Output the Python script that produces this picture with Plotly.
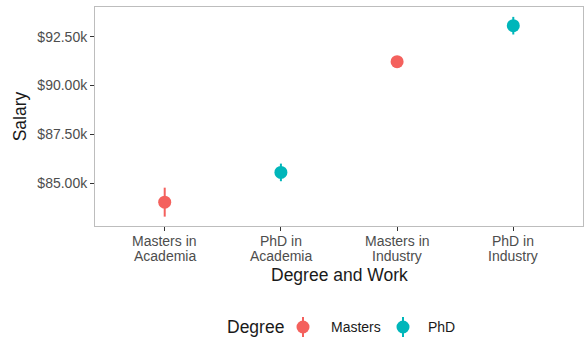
import plotly.graph_objects as go

# Mean salary by degree/work combination, with standard-error half widths
categories = ["Masters in<br>Academia", "PhD in<br>Academia", "Masters in<br>Industry", "PhD in<br>Industry"]
degree = ["Masters", "PhD", "Masters", "PhD"]
salary = [84040, 85560, 91220, 93060]
salary_se = [740, 450, 150, 450]

y_ticks = [85000, 87500, 90000, 92500]
y_tick_labels = ["$85.00k", "$87.50k", "$90.00k", "$92.50k"]

colors = {"Masters": "#F4615D", "PhD": "#00B6BA"}
FONT = "Liberation Sans, Arial, sans-serif"

W, H = 587, 341
M_L, M_R, M_T, M_B = 95, 4, 7, 115
PW, PH = W - M_L - M_R, H - M_T - M_B

fig = go.Figure()
for d in ["Masters", "PhD"]:
    idx = [i for i, g in enumerate(degree) if g == d]
    fig.add_trace(go.Scatter(
        x=[i for i in idx],
        y=[salary[i] for i in idx],
        error_y=dict(type="data", array=[salary_se[i] for i in idx],
                     color=colors[d], thickness=2, width=0),
        mode="markers",
        marker=dict(color=colors[d], size=13),
        name=d,
        showlegend=False,
    ))

fig.update_xaxes(
    range=[-0.6, 3.6],
    tickmode="array", tickvals=list(range(len(categories))), ticktext=[""] * len(categories),
    ticks="outside", ticklen=4, tickcolor="#333333", tickwidth=1,
    showline=True, linecolor="#BDBDBD", linewidth=1, mirror=True,
    showgrid=False, zeroline=False,
)
fig.update_yaxes(
    range=[82821, 94015],
    tickmode="array", tickvals=y_ticks, ticktext=y_tick_labels,
    ticks="outside", ticklen=4, tickcolor="#333333", tickwidth=1,
    tickfont=dict(family=FONT, size=14, color="#4D4D4D"),
    showline=True, linecolor="#BDBDBD", linewidth=1, mirror=True,
    showgrid=False, zeroline=False,
    title=dict(text="Salary", font=dict(family=FONT, size=17.5, color="#1A1A1A"), standoff=6),
)


def px_x(px):
    return (px - M_L) / PW


def px_y(py):
    return (H - M_B - py) / PH


annotations = []
shapes = []

# Category labels under the x axis, set with a tight line spacing
for i, cat in enumerate(categories):
    for j, line in enumerate(cat.split("<br>")):
        annotations.append(dict(text=line, x=i, y=px_y(241 + 15 * j), xref="x", yref="paper",
                                xanchor="center", yanchor="middle", showarrow=False,
                                font=dict(family=FONT, size=14, color="#4D4D4D")))

# x axis title
annotations.append(dict(text="Degree and Work", x=0.5, y=px_y(275), xref="paper", yref="paper",
                        xanchor="center", yanchor="middle", showarrow=False,
                        font=dict(family=FONT, size=17.5, color="#1A1A1A")))

# Legend drawn beneath the plot: title, glyphs (point with vertical bar) and labels
leg_y = 327
annotations.append(dict(text="Degree", x=px_x(225), y=px_y(leg_y), xref="paper", yref="paper",
                        xanchor="left", yanchor="middle", showarrow=False,
                        font=dict(family=FONT, size=17.5, color="#1A1A1A")))
for d, gx, tx in [("Masters", 303, 329), ("PhD", 403, 426)]:
    annotations.append(dict(text=d, x=px_x(tx), y=px_y(leg_y), xref="paper", yref="paper",
                            xanchor="left", yanchor="middle", showarrow=False,
                            font=dict(family=FONT, size=14, color="#1A1A1A")))
    shapes.append(dict(type="line", xref="paper", yref="paper",
                       x0=px_x(gx), x1=px_x(gx), y0=px_y(leg_y - 10), y1=px_y(leg_y + 10),
                       line=dict(color=colors[d], width=2)))
    shapes.append(dict(type="circle", xref="paper", yref="paper",
                       x0=px_x(gx - 6.5), x1=px_x(gx + 6.5), y0=px_y(leg_y + 6.5), y1=px_y(leg_y - 6.5),
                       fillcolor=colors[d], line=dict(width=0)))

fig.update_layout(
    width=W, height=H,
    margin=dict(l=M_L, r=M_R, t=M_T, b=M_B),
    paper_bgcolor="white", plot_bgcolor="white",
    annotations=annotations, shapes=shapes,
    showlegend=False,
)

fig.write_html("out.html")
